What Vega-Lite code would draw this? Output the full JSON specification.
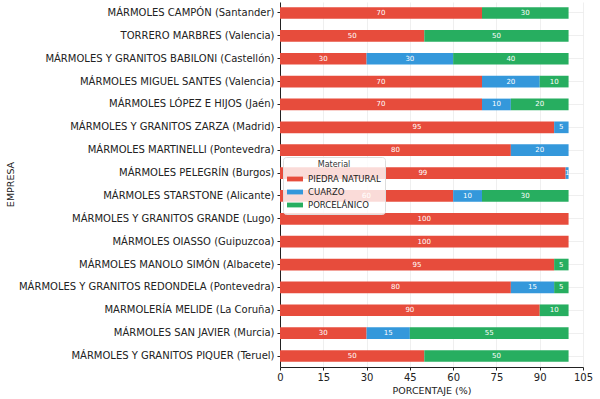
{
  "$schema": "https://vega.github.io/schema/vega-lite/v6.json",
  "width": 303,
  "height": 365,
  "autosize": {"type": "none"},
  "padding": {"left": 280, "top": 2, "right": 17, "bottom": 32},
  "background": "white",
  "config": {
    "font": "DejaVu Sans",
    "view": {"stroke": null},
    "axis": {"labelFont": "DejaVu Sans", "titleFont": "DejaVu Sans", "titleFontWeight": "normal", "labelColor": "#222222", "titleColor": "#222222"}
  },
  "data": {
    "values": [
      {"empresa": "MÁRMOLES CAMPÓN (Santander)", "material": "PIEDRA NATURAL", "o": 1, "pct": 70},
      {"empresa": "MÁRMOLES CAMPÓN (Santander)", "material": "PORCELÁNICO", "o": 3, "pct": 30},
      {"empresa": "TORRERO MARBRES (Valencia)", "material": "PIEDRA NATURAL", "o": 1, "pct": 50},
      {"empresa": "TORRERO MARBRES (Valencia)", "material": "PORCELÁNICO", "o": 3, "pct": 50},
      {"empresa": "MÁRMOLES Y GRANITOS BABILONI (Castellón)", "material": "PIEDRA NATURAL", "o": 1, "pct": 30},
      {"empresa": "MÁRMOLES Y GRANITOS BABILONI (Castellón)", "material": "CUARZO", "o": 2, "pct": 30},
      {"empresa": "MÁRMOLES Y GRANITOS BABILONI (Castellón)", "material": "PORCELÁNICO", "o": 3, "pct": 40},
      {"empresa": "MÁRMOLES MIGUEL SANTES (Valencia)", "material": "PIEDRA NATURAL", "o": 1, "pct": 70},
      {"empresa": "MÁRMOLES MIGUEL SANTES (Valencia)", "material": "CUARZO", "o": 2, "pct": 20},
      {"empresa": "MÁRMOLES MIGUEL SANTES (Valencia)", "material": "PORCELÁNICO", "o": 3, "pct": 10},
      {"empresa": "MÁRMOLES LÓPEZ E HIJOS (Jaén)", "material": "PIEDRA NATURAL", "o": 1, "pct": 70},
      {"empresa": "MÁRMOLES LÓPEZ E HIJOS (Jaén)", "material": "CUARZO", "o": 2, "pct": 10},
      {"empresa": "MÁRMOLES LÓPEZ E HIJOS (Jaén)", "material": "PORCELÁNICO", "o": 3, "pct": 20},
      {"empresa": "MÁRMOLES Y GRANITOS ZARZA (Madrid)", "material": "PIEDRA NATURAL", "o": 1, "pct": 95},
      {"empresa": "MÁRMOLES Y GRANITOS ZARZA (Madrid)", "material": "CUARZO", "o": 2, "pct": 5},
      {"empresa": "MÁRMOLES MARTINELLI (Pontevedra)", "material": "PIEDRA NATURAL", "o": 1, "pct": 80},
      {"empresa": "MÁRMOLES MARTINELLI (Pontevedra)", "material": "CUARZO", "o": 2, "pct": 20},
      {"empresa": "MÁRMOLES PELEGRÍN (Burgos)", "material": "PIEDRA NATURAL", "o": 1, "pct": 99},
      {"empresa": "MÁRMOLES PELEGRÍN (Burgos)", "material": "CUARZO", "o": 2, "pct": 1},
      {"empresa": "MÁRMOLES STARSTONE (Alicante)", "material": "PIEDRA NATURAL", "o": 1, "pct": 60},
      {"empresa": "MÁRMOLES STARSTONE (Alicante)", "material": "CUARZO", "o": 2, "pct": 10},
      {"empresa": "MÁRMOLES STARSTONE (Alicante)", "material": "PORCELÁNICO", "o": 3, "pct": 30},
      {"empresa": "MÁRMOLES Y GRANITOS GRANDE (Lugo)", "material": "PIEDRA NATURAL", "o": 1, "pct": 100},
      {"empresa": "MÁRMOLES OIASSO (Guipuzcoa)", "material": "PIEDRA NATURAL", "o": 1, "pct": 100},
      {"empresa": "MÁRMOLES MANOLO SIMÓN (Albacete)", "material": "PIEDRA NATURAL", "o": 1, "pct": 95},
      {"empresa": "MÁRMOLES MANOLO SIMÓN (Albacete)", "material": "PORCELÁNICO", "o": 3, "pct": 5},
      {"empresa": "MÁRMOLES Y GRANITOS REDONDELA (Pontevedra)", "material": "PIEDRA NATURAL", "o": 1, "pct": 80},
      {"empresa": "MÁRMOLES Y GRANITOS REDONDELA (Pontevedra)", "material": "CUARZO", "o": 2, "pct": 15},
      {"empresa": "MÁRMOLES Y GRANITOS REDONDELA (Pontevedra)", "material": "PORCELÁNICO", "o": 3, "pct": 5},
      {"empresa": "MARMOLERÍA MELIDE (La Coruña)", "material": "PIEDRA NATURAL", "o": 1, "pct": 90},
      {"empresa": "MARMOLERÍA MELIDE (La Coruña)", "material": "PORCELÁNICO", "o": 3, "pct": 10},
      {"empresa": "MÁRMOLES SAN JAVIER (Murcia)", "material": "PIEDRA NATURAL", "o": 1, "pct": 30},
      {"empresa": "MÁRMOLES SAN JAVIER (Murcia)", "material": "CUARZO", "o": 2, "pct": 15},
      {"empresa": "MÁRMOLES SAN JAVIER (Murcia)", "material": "PORCELÁNICO", "o": 3, "pct": 55},
      {"empresa": "MÁRMOLES Y GRANITOS PIQUER (Teruel)", "material": "PIEDRA NATURAL", "o": 1, "pct": 50},
      {"empresa": "MÁRMOLES Y GRANITOS PIQUER (Teruel)", "material": "PORCELÁNICO", "o": 3, "pct": 50}
    ]
  },
  "transform": [
    {"stack": "pct", "groupby": ["empresa"], "sort": [{"field": "o", "order": "ascending"}], "as": ["x0", "x1"]},
    {"calculate": "(datum.x0 + datum.x1) / 2", "as": "xm"}
  ],
  "encoding": {
    "y": {
      "field": "empresa", "type": "nominal", "sort": null,
      "scale": {"paddingInner": 0.49, "paddingOuter": 0.225},
      "axis": {
        "title": "EMPRESA", "titleFontSize": 9.5, "titleX": -270, "titleY": 182, "titleAngle": -90,
        "titleAlign": "center", "titleBaseline": "middle",
        "labelFontSize": 10, "labelPadding": 3, "labelLimit": 0, "tickSize": 3, "tickColor": "#222222",
        "domainColor": "#222222", "grid": true, "gridColor": "#ebebeb", "gridWidth": 0.8
      }
    }
  },
  "layer": [
    {
      "mark": {"type": "bar"},
      "encoding": {
        "x": {
          "field": "x0", "type": "quantitative",
          "scale": {"domain": [0, 105], "nice": false, "zero": true},
          "axis": {
            "title": "PORCENTAJE (%)", "titleFontSize": 9.5, "titlePadding": 3,
            "values": [0, 15, 30, 45, 60, 75, 90, 105], "labelFontSize": 10, "labelPadding": 2,
            "tickSize": 3, "tickColor": "#222222", "domainColor": "#222222",
            "grid": true, "gridColor": "#ebebeb", "gridWidth": 0.8, "labelFlush": false
          }
        },
        "x2": {"field": "x1"},
        "color": {
          "field": "material", "type": "nominal",
          "scale": {"domain": ["PIEDRA NATURAL", "CUARZO", "PORCELÁNICO"], "range": ["#e74c3c", "#3498db", "#27ae60"]},
          "legend": {
            "title": "Material", "orient": "none", "legendX": 3, "legendY": 155,
            "titleFontSize": 8, "titleFontWeight": "normal", "titleColor": "#333333", "titleAnchor": "middle",
            "titlePadding": 2, "labelFontSize": 8.5, "labelColor": "#222222",
            "symbolType": "M-1,-0.3H1V0.3H-1Z", "symbolSize": 256, "labelOffset": 5,
            "symbolStrokeWidth": 0, "rowPadding": 0, "fillColor": "rgba(255,255,255,0.8)",
            "strokeColor": "#dddddd", "padding": 4, "cornerRadius": 3
          }
        }
      }
    },
    {
      "mark": {"type": "text", "color": "white", "fontSize": 7, "baseline": "middle", "align": "center"},
      "encoding": {
        "x": {"field": "xm", "type": "quantitative"},
        "text": {"field": "pct", "type": "quantitative"}
      }
    }
  ]
}
